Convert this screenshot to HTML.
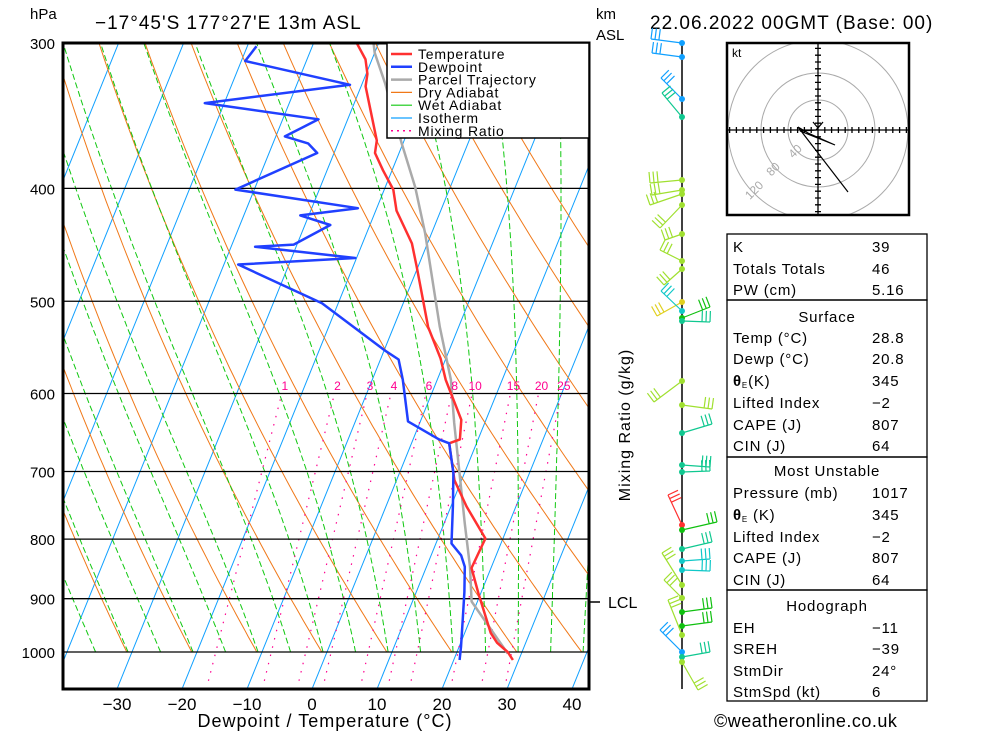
<!DOCTYPE html>
<html><head><meta charset="utf-8">
<style>
html,body{margin:0;padding:0;background:#fff;}
svg{display:block;}
text{font-family:"Liberation Sans",sans-serif;}
</style></head>
<body>
<svg id="chart" width="1000" height="733" viewBox="0 0 1000 733" xmlns="http://www.w3.org/2000/svg">
<defs><clipPath id="plotclip"><rect x="63" y="43" width="526" height="646"/></clipPath>
<clipPath id="hodoclip"><rect x="727" y="43" width="182" height="172"/></clipPath></defs>
<rect width="1000" height="733" fill="#fff"/>
<g id="bg" clip-path="url(#plotclip)"></g>
<g id="iso"></g>
<g id="series" clip-path="url(#plotclip)"></g>
<rect x="63" y="43" width="526" height="646" fill="none" stroke="#000" stroke-width="3"/>
<g id="legend"></g>
<g id="labels"></g>
<text x="30" y="19" font-size="15">hPa</text>
<text x="95" y="29" font-size="19" letter-spacing="1">−17°45'S 177°27'E 13m ASL</text>
<text x="596" y="19" font-size="15">km</text>
<text x="596" y="40" font-size="15">ASL</text>
<text x="650" y="29" font-size="19" letter-spacing="1">22.06.2022 00GMT (Base: 00)</text>
<text x="325" y="727" font-size="18" text-anchor="middle" letter-spacing="1">Dewpoint / Temperature (°C)</text>
<text transform="translate(630,425) rotate(-90)" font-size="16" text-anchor="middle" letter-spacing="1">Mixing Ratio (g/kg)</text>
<line x1="589" y1="602" x2="600" y2="602" stroke="#000" stroke-width="1.5"/>
<text x="608" y="608" font-size="16">LCL</text>
<line x1="682" y1="43" x2="682" y2="689" stroke="#000" stroke-width="1.5"/>
<g id="barbs"></g>
<g id="hodo"></g>
<g id="tables"></g>
<text x="714" y="727" font-size="18" letter-spacing="0.5">©weatheronline.co.uk</text>
</svg>
<script>
// ---- data ----
const tempP = [1016,1000,982,963,890,847,799,750,712,662,657,632,584,560,526,467,446,418,401,386,373,364,327,319,310,300];
const tempT = [29.1,27.8,25.6,24.0,19.6,17.0,17.3,12.4,8.9,5.8,7.2,6.2,1.3,-0.8,-4.7,-10.2,-12.4,-16.8,-18.6,-21.4,-23.7,-24.2,-29.3,-29.8,-31.0,-33.4];
const dewP = [1016,990,939,888,845,826,807,750,702,662,657,634,584,561,551,502,465,459,449,447,430,422,416,401,373,366,361,349,338,326,311,302];
const dewT = [20.9,20.3,18.9,17.4,15.9,14.6,12.4,10.3,8.3,5.8,4.0,-1.9,-5.3,-7.2,-9.9,-22.5,-37.8,-20.2,-36.3,-30.5,-26.1,-31.3,-22.9,-42.9,-32.6,-34.6,-38.6,-34.5,-53.0,-31.8,-49.4,-48.6];
const parcelP = [1003,905,845,776,698,636,584,526,437,399,366,325,306,300];
const parcelT = [27.9,19.1,16.7,13.2,9.0,5.3,2.1,-2.9,-11.0,-15.4,-20.2,-26.5,-30.0,-30.8];
const pressureTicks = [300,400,500,600,700,800,900,1000];
const tempTicks = [-30,-20,-10,0,10,20,30,40];
const mixRatios = [1,2,3,4,6,8,10,15,20,25];

const NS="http://www.w3.org/2000/svg";
function Y(p){return 652+506*Math.log(p/1000);}
function X(T,p){return 312+6.5*T+0.405*(689-Y(p));}
function mk(tag,parent,attrs){const e=document.createElementNS(NS,tag);for(const k in attrs)e.setAttribute(k,attrs[k]);parent.appendChild(e);return e;}
function ptsStr(arr){return arr.map(a=>a[0].toFixed(1)+","+a[1].toFixed(1)).join(" ");}

const bg=document.getElementById('bg');
for(let T=-120;T<=40;T+=10){
  const l=mk('line',bg,{x1:X(T,1076),y1:Y(1076),x2:X(T,300),y2:Y(300),stroke:'#10a0ff','stroke-width':1});
  
  
}
for(let k=-6;k<=12;k++){
  const T0=-30.8+10*k+273.15;const a=[];
  for(let p=1000;p>=300;p-=10){a.push([X(T0*Math.pow(p/1000,0.286)-273.15,p),Y(p)]);}
  const l=mk('polyline',bg,{points:ptsStr(a),fill:'none',stroke:'#f07818','stroke-width':1});
  
  
}
for(let k=-4;k<=16;k++){
  let T=-35.6+5*k+273.15;const a=[];
  for(let p=1000;p>=300;p-=5){
    a.push([X(T-273.15,p),Y(p)]);
    const es=6.112*Math.exp(17.67*(T-273.15)/(T-29.65));const rs=0.622*es/(p-es);
    const d=(287*T+2.5e6*rs)/(p*(1004+2.5e6*2.5e6*rs*0.622/(287*T*T)));
    T-=d*5;
  }
  const l=mk('polyline',bg,{points:ptsStr(a),fill:'none',stroke:'#10c810','stroke-width':1,'stroke-dasharray':'6,3'});
  
  
}
function tdFromW(w,p){const e=w*p/(622+w);const L=Math.log(e/6.112);return 243.5*L/(17.67-L);}
const labelsG=document.getElementById('labels');
mixRatios.forEach(w=>{
  const l=mk('line',bg,{x1:X(tdFromW(w,1076),1076),y1:Y(1076),x2:X(tdFromW(w,600),600),y2:Y(600),stroke:'#ff0090','stroke-width':1.2,'stroke-dasharray':'1.5,7'});
  
  
  const t=mk('text',labelsG,{x:X(tdFromW(w,600),600)+3,y:390,'font-size':12,fill:'#ff0090','text-anchor':'middle'});
  t.textContent=w;
  
  
});
const iso=document.getElementById('iso');
pressureTicks.forEach(p=>{
  const l=mk('line',iso,{x1:63,y1:Y(p),x2:589,y2:Y(p),stroke:'#000','stroke-width':1.3});
  
  
  const t=mk('text',labelsG,{x:55,y:Y(p)+6,'font-size':15,'text-anchor':'end'});
  t.textContent=p;
  
  
});
tempTicks.forEach(T=>{
  const t=mk('text',labelsG,{x:312+6.5*T,y:710,'font-size':17,'text-anchor':'middle'});
  t.textContent=(T<0?'−'+(-T):T);
  
  
});
const ser=document.getElementById('series');
function series(P,T,color,w,name){
  const a=P.map((p,i)=>[X(T[i],p),Y(p)]);
  const l=mk('polyline',ser,{points:ptsStr(a),fill:'none',stroke:color,'stroke-width':w,'stroke-linejoin':'round'});
  
  
}
series(parcelP,parcelT,'#aaaaaa',2.5,'parcel-line');
series(tempP,tempT,'#ff3030',2.5,'temperature-line');
series(dewP,dewT,'#2040ff',2.5,'dewpoint-line');
const lg=document.getElementById('legend');
const lr=mk('rect',lg,{x:387,y:43,width:202,height:95,fill:'#fff',stroke:'#000','stroke-width':1.5});


const legItems=[['Temperature','#ff3030',2.5,''],['Dewpoint','#2040ff',2.5,''],['Parcel Trajectory','#aaaaaa',2.5,''],['Dry Adiabat','#f07818',1.2,''],['Wet Adiabat','#10c810',1.2,''],['Isotherm','#10a0ff',1.2,''],['Mixing Ratio','#ff0090',1.5,'2,4']];
legItems.forEach((it,i)=>{
  const y=54+i*12.8;
  const l=mk('line',lg,{x1:391,y1:y,x2:412,y2:y,stroke:it[1],'stroke-width':it[2],'stroke-dasharray':it[3]||'none'});
  
  
  const t=mk('text',lg,{x:418,y:y+5,'font-size':14,'letter-spacing':'0.8'});
  t.textContent=it[0];
  
  
});
const barbs=[[43,651,39,'#10a0ff',1],[57,652,53,'#10a0ff',1],[99,661,78,'#10a0ff',1],[117,662,93,'#10c890',1],[180,650,183,'#a0e030',1],[190,652,195,'#a0e030',1],[194,650,205,'#a0e030',1],[205,660,228,'#a0e030',1],[234,665,240,'#a0e030',1],[261,660,250,'#a0e030',1],[269,664,285,'#a0e030',1],[302,657,316,'#e0d020',1],[311,661,291,'#10c8c8',1],[318,710,307,'#10c010',-1],[321,710,322,'#10c890',-1],[381,654,402,'#a0e030',1],[405,712,409,'#a0e030',-1],[433,712,424,'#10c890',-1],[465,710,467,'#10c890',-1],[472,710,471,'#10c890',-1],[525,668,495,'#ff3030',1],[530,717,522,'#10c010',-1],[549,712,542,'#10c890',-1],[561,710,559,'#10c8c8',-1],[570,710,571,'#10c8c8',-1],[585,662,553,'#a0e030',1],[598,664,580,'#a0e030',1],[612,712,608,'#10c010',-1],[626,712,622,'#10c010',-1],[635,668,600,'#a0e030',1],[652,660,630,'#10a0ff',1],[657,710,652,'#10c890',-1],[662,698,690,'#a0e030',1]];
const bG=document.getElementById('barbs');
barbs.forEach(b=>{
  const [y,ex,ey,c,s]=b;
  const dx=ex-682,dy=ey-y,L=Math.hypot(dx,dy),ux=dx/L,uy=dy/L;
  let nx=-uy*s,ny=ux*s; if(ny>0&&s>0){nx=-nx;ny=-ny;}
  let d=`M682,${y} L${ex},${ey}`;
  for(let i=0;i<3;i++){const bx=ex-ux*i*4,by=ey-uy*i*4;d+=` M${bx.toFixed(1)},${by.toFixed(1)} l${(nx*11).toFixed(1)},${(ny*11).toFixed(1)}`;}
  const p=mk('path',bG,{d:d,fill:'none',stroke:c,'stroke-width':1.2});
  
  
  const dot=mk('circle',bG,{cx:682,cy:y,r:3,fill:c});
  
  
});
const hG=document.getElementById('hodo');
const hc=mk('g',hG,{'clip-path':'url(#hodoclip)'});
[30,57,90].forEach(r=>{
  const c=mk('circle',hc,{cx:818,cy:130,r:r,fill:'none',stroke:'#aaa','stroke-width':1});
  
  
});
let ax=`M727,130 H909 M818,43 V215`;
for(let i=-13;i<=13;i++){if(i)ax+=` M${818+i*6.8},127 v6 M815,${130+i*6.8} h6`;}
const axp=mk('path',hc,{d:ax,stroke:'#000','stroke-width':1.3,fill:'none'});


const tr=mk('polyline',hc,{points:'813,122 818,128 823,122 816,130 800,131 835,145 808,133 798,127 848,192',fill:'none',stroke:'#000','stroke-width':1.2});


const hb=mk('rect',hG,{x:727,y:43,width:182,height:172,fill:'none',stroke:'#000','stroke-width':2.5});


const kt=mk('text',hG,{x:732,y:57,'font-size':12});
kt.textContent='kt';


[['40',798,154],['80',776,172],['120',757,193]].forEach(r=>{
  const t=mk('text',hG,{x:r[1],y:r[2],'font-size':12,fill:'#aaa','text-anchor':'middle',transform:`rotate(-45 ${r[1]} ${r[2]})`});
  t.textContent=r[0];
  
  
});
const tG=document.getElementById('tables');
const boxes=[[234,300],[300,457],[457,590],[590,701]];
boxes.forEach(b=>{
  const r=mk('rect',tG,{x:727,y:b[0],width:200,height:b[1]-b[0],fill:'none',stroke:'#000','stroke-width':1.3});
  
  
});
const rows=[['K','39',246],['Totals Totals','46',268],['PW (cm)','5.16',289],['#Surface','',316],['Temp (°C)','28.8',337],['Dewp (°C)','20.8',358],['θE(K)','345',380],['Lifted Index','−2',402],['CAPE (J)','807',424],['CIN (J)','64',445],['#Most Unstable','',470],['Pressure (mb)','1017',492],['θE (K)','345',514],['Lifted Index','−2',536],['CAPE (J)','807',557],['CIN (J)','64',579],['#Hodograph','',605],['EH','−11',627],['SREH','−39',648],['StmDir','24°',670],['StmSpd (kt)','6',691]];
rows.forEach(r=>{
  const y=r[2]+6;
  if(r[0][0]==='#'){
    const t=mk('text',tG,{x:827,y:y,'font-size':15,'text-anchor':'middle','letter-spacing':'0.8'});
    t.textContent=r[0].slice(1);
    
    
    return;
  }
  const t=mk('text',tG,{x:733,y:y,'font-size':15,'letter-spacing':'0.8'});
  if(r[0].startsWith('θE')){
    const a=mk('tspan',t,{'font-weight':'bold'});a.textContent='θ';
    const b=mk('tspan',t,{'font-size':8,dy:2});b.textContent='E';
    const c=mk('tspan',t,{dy:-2});c.textContent=r[0].slice(2);
  } else t.textContent=r[0];
  
  
  const v=mk('text',tG,{x:872,y:y,'font-size':15,'letter-spacing':'0.8'});
  v.textContent=r[1];
  
  
});
</script>
</body></html>
